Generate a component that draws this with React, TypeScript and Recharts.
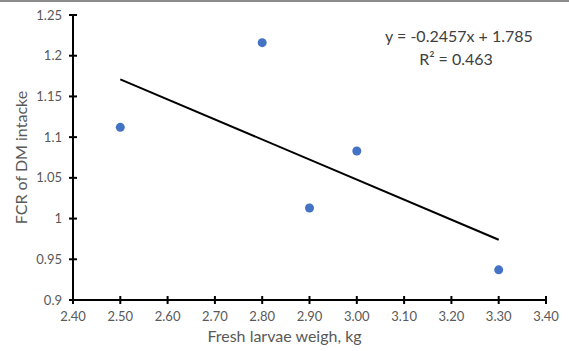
import { ComposedChart, Line, Scatter, XAxis, YAxis } from 'recharts'

const weights = [2.5, 2.8, 2.9, 3.0, 3.3]
const fcr = [1.112, 1.216, 1.013, 1.083, 0.937]
const trendX = [2.5, 3.3]
const trendY = [1.171, 0.974]
const xTicks = [2.4, 2.5, 2.6, 2.7, 2.8, 2.9, 3.0, 3.1, 3.2, 3.3, 3.4]
const yTicks = [0.9, 0.95, 1, 1.05, 1.1, 1.15, 1.2, 1.25]
const equation = 'y = -0.2457x + 1.785'
const rSquared = 'R² = 0.463'

const points = weights.map((x, i) => ({ x, y: fcr[i] }))
const trend = trendX.map((x, i) => ({ x, y: trendY[i] }))

const font = 'Lato, "Open Sans", sans-serif'
const textColor = '#595959'

function XTick(props: any) {
  const { x, y, payload } = props
  // y here is the text position below the axis
  const axisY = y - 8
  return (
    <g>
      <line x1={x} x2={x} y1={axisY - 4} y2={axisY + 4} stroke="#000" strokeWidth={2} />
      <text x={x} y={axisY + 21} textAnchor="middle" fill={textColor} fontSize={13} fontFamily={font}>
        {payload.value.toFixed(2)}
      </text>
    </g>
  )
}

function YTick(props: any) {
  const { x, y, payload } = props
  const axisX = x + 8
  return (
    <g>
      <line x1={axisX - 4} x2={axisX + 4} y1={y} y2={y} stroke="#000" strokeWidth={2} />
      <text x={axisX - 11} y={y + 4.5} textAnchor="end" fill={textColor} fontSize={13} fontFamily={font}>
        {String(parseFloat(payload.value.toFixed(2)))}
      </text>
    </g>
  )
}

export default function App() {
  return (
    <div
      style={{
        position: 'absolute',
        left: 0,
        top: 0,
        width: 569,
        height: 351,
        background: '#fff',
        borderTop: '2px solid #8c8c8c',
        boxSizing: 'border-box',
      }}
    >
      <ComposedChart
        width={569}
        height={349}
        margin={{ top: 13, right: 23, bottom: 0, left: 0 }}
      >
        <XAxis
          dataKey="x"
          type="number"
          domain={[2.4, 3.4]}
          ticks={xTicks}
          interval={0}
          axisLine={{ stroke: '#000', strokeWidth: 2 }}
          tickLine={false}
          tick={<XTick />}
          tickSize={4}
          tickMargin={4}
          height={51}
        />
        <YAxis
          type="number"
          domain={[0.9, 1.25]}
          ticks={yTicks}
          interval={0}
          axisLine={{ stroke: '#000', strokeWidth: 2 }}
          tickLine={false}
          tick={<YTick />}
          tickSize={4}
          tickMargin={4}
          width={73}
          label={{
            value: 'FCR of DM intacke',
            angle: -90,
            position: 'insideLeft',
            offset: 21,
            style: { textAnchor: 'middle' },
            fill: textColor,
            fontSize: 16,
            fontFamily: font,
          }}
        />
        <Line
          data={trend}
          dataKey="y"
          stroke="#000"
          strokeWidth={2}
          dot={false}
          activeDot={false}
          isAnimationActive={false}
        />
        <Scatter
          data={points}
          dataKey="y"
          fill="#4472C4"
          shape={(p: any) => <circle cx={p.cx} cy={p.cy} r={4.5} fill="#4472C4" />}
          isAnimationActive={false}
        />
      </ComposedChart>
      <div
        style={{
          position: 'absolute',
          left: 0,
          top: 323,
          width: 569,
          textAlign: 'center',
          fontFamily: font,
          fontSize: 16,
          lineHeight: '22px',
          color: textColor,
        }}
      >
        Fresh larvae weigh, kg
      </div>
      <div
        style={{
          position: 'absolute',
          left: 359,
          top: 22,
          width: 200,
          textAlign: 'center',
          fontFamily: font,
          fontSize: 16,
          lineHeight: '23px',
          color: '#404040',
        }}
      >
        <div>{equation}</div>
        <div style={{ marginLeft: -6 }}>{rSquared}</div>
      </div>
    </div>
  )
}
